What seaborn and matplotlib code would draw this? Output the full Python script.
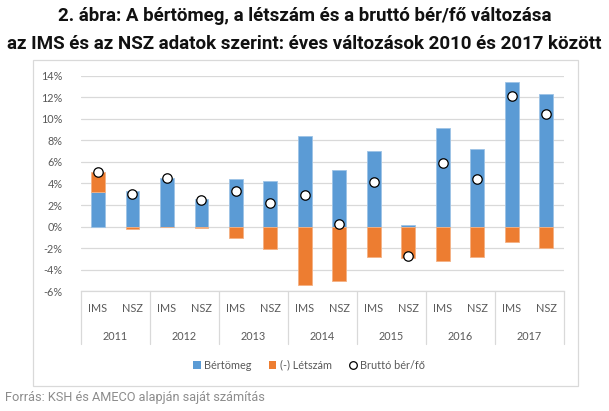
import numpy as np
import pandas as pd
import matplotlib
matplotlib.use("Agg")
import matplotlib.pyplot as plt
import matplotlib.transforms as mtransforms
from matplotlib.patches import Rectangle
from matplotlib.lines import Line2D
import seaborn as sns

# ---- data ----
years = ["2011", "2012", "2013", "2014", "2015", "2016", "2017"]
sources = ["IMS", "NSZ"]
bertomeg = [3.25, 3.30, 4.55, 2.60, 4.42, 4.23, 8.38, 5.23, 7.02, 0.15, 9.15, 7.18, 13.43, 12.34]
letszam = [1.80, -0.25, 0.00, -0.15, -1.09, -2.11, -5.45, -5.05, -2.85, -2.88, -3.22, -2.82, -1.39, -1.95]
brutto = [5.05, 3.03, 4.50, 2.50, 3.33, 2.16, 2.96, 0.20, 4.17, -2.70, 5.93, 4.42, 12.10, 10.46]
yticks = [-6, -4, -2, 0, 2, 4, 6, 8, 10, 12, 14]

labels = [f"{y} {s}" for y in years for s in sources]
df = pd.DataFrame({"cat": labels, "bertomeg": bertomeg, "letszam": letszam, "brutto": brutto})
df["pos"] = np.arange(len(df))
df["bottom"] = np.where(df["letszam"] > 0, df["bertomeg"], 0.0)

BLUE = "#5B9BD5"
ORANGE = "#ED7D31"
GRID = "#D9D9D9"
TXT = "#595959"
FONT = ["Lato", "DejaVu Sans"]

sns.set_style("white")
plt.rcParams["font.family"] = FONT

W, H = 609, 411
fig = plt.figure(figsize=(W / 100, H / 100), dpi=100)
left, right, top, bottom = 80.7, 563.5, 75.7, 291.3
ax = fig.add_axes([left / W, 1 - bottom / H, (right - left) / W, (bottom - top) / H])

sns.barplot(data=df, x="cat", y="bertomeg", order=labels, color=BLUE, width=0.4,
            saturation=1, edgecolor="#9DC3E6", linewidth=0.6, ax=ax, zorder=3)
sns.barplot(data=df, x="cat", y="letszam", order=labels, color=ORANGE, width=0.4,
            saturation=1, edgecolor="#F4B183", linewidth=0.6, bottom=df["bottom"].values,
            ax=ax, zorder=3)
sns.scatterplot(data=df, x="pos", y="brutto", color="white", edgecolor="black",
                linewidth=0.9, s=46, ax=ax, zorder=5, legend=False)

ax.set_xlim(-0.5, len(labels) - 0.5)
ax.set_ylim(-6, 14)
ax.set_yticks(yticks)
ax.set_yticklabels([f"{t}%" for t in yticks], color=TXT, fontsize=7.8)
ax.tick_params(axis="y", length=0, pad=13)
ax.set_xticks([])
ax.set_xlabel("")
ax.set_ylabel("")
ax.yaxis.grid(True, color=GRID, linewidth=0.9, zorder=0)
ax.set_axisbelow(True)
for s in ["top", "right", "left"]:
    ax.spines[s].set_visible(False)
ax.spines["bottom"].set_color(GRID)
ax.spines["bottom"].set_linewidth(0.9)

# two-level category axis
trans = mtransforms.blended_transform_factory(ax.transData, ax.transAxes)
ph = bottom - top
div_y = -(344 - bottom) / ph
for g in range(len(years) + 1):
    xx = -0.5 + 2 * g
    ax.plot([xx, xx], [0, div_y], transform=trans, color=GRID, lw=0.9, clip_on=False)
sub_y = -(309 - bottom) / ph
yr_y = -(336 - bottom) / ph
for i, lab in enumerate(labels):
    ax.text(i, sub_y, lab.split()[1], transform=trans, ha="center", va="center",
            color=TXT, fontsize=7.8)
for g, y in enumerate(years):
    ax.text(2 * g + 0.5, yr_y, y, transform=trans, ha="center", va="center",
            color=TXT, fontsize=7.8)

# outer frame
fig.patches.append(Rectangle((33 / W, 1 - 386 / H), (578 - 33) / W, (386 - 60) / H,
                             transform=fig.transFigure, fill=False, edgecolor=GRID, lw=0.9))

# legend
handles = [
    Rectangle((0, 0), 1, 1, facecolor=BLUE, edgecolor="none"),
    Rectangle((0, 0), 1, 1, facecolor=ORANGE, edgecolor="none"),
    Line2D([], [], marker="o", linestyle="none", markerfacecolor="white",
           markeredgecolor="black", markersize=5.5, markeredgewidth=0.9),
]
fig.legend(handles, ["Bértömeg", "(-) Létszám", "Bruttó bér/fő"], loc="center",
           bbox_to_anchor=(309 / W, 1 - 365 / H), ncol=3, frameon=False,
           fontsize=7.8, labelcolor=TXT, handlelength=0.7, handleheight=0.7,
           handletextpad=0.3, columnspacing=1.6)

# titles
fig.text(0.5, 1 - 21 / H, "2. ábra: A bértömeg, a létszám és a bruttó bér/fő változása",
         ha="center", va="baseline", fontsize=13.5, fontweight="bold",
         family=["Roboto", "DejaVu Sans"], color="#111111")
fig.text(0.5, 1 - 49 / H, "az IMS és az NSZ adatok szerint: éves változások 2010 és 2017 között",
         ha="center", va="baseline", fontsize=13.5, fontweight="bold",
         family=["Roboto", "DejaVu Sans"], color="#111111")
fig.text(5 / W, 1 - 401 / H, "Forrás: KSH és AMECO alapján saját számítás",
         ha="left", va="baseline", fontsize=9.2, family=["Roboto", "DejaVu Sans"],
         color="#8C8C8C")

fig.savefig("out.png", dpi=100)
